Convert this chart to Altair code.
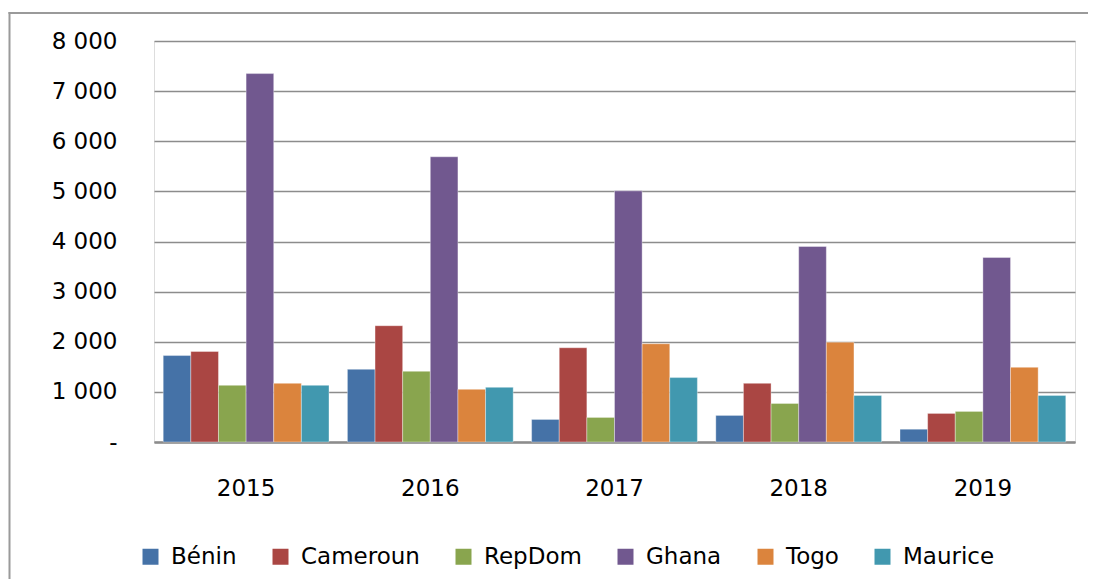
import altair as alt
import pandas as pd

years = ["2015", "2016", "2017", "2018", "2019"]
countries = ["Bénin", "Cameroun", "RepDom", "Ghana", "Togo", "Maurice"]
colors = ["#4572A7", "#AA4643", "#89A54E", "#71588F", "#DB843D", "#4198AF"]

benin = [1725, 1450, 450, 530, 255]
cameroun = [1805, 2320, 1880, 1170, 570]
repdom = [1130, 1410, 490, 770, 610]
ghana = [7350, 5690, 5010, 3900, 3680]
togo = [1170, 1050, 1960, 1990, 1490]
maurice = [1130, 1090, 1285, 930, 930]

series = [benin, cameroun, repdom, ghana, togo, maurice]
rows = []
for c, vals in zip(countries, series):
    for y, v in zip(years, vals):
        rows.append({"Année": y, "Pays": c, "Valeur": v})
df = pd.DataFrame(rows)

FONT = "DejaVu Sans"

bars = alt.Chart(df).mark_bar(stroke="#ffffff", strokeWidth=0.6, strokeOpacity=0.6).encode(
    x=alt.X("Année:N", sort=years,
            scale=alt.Scale(paddingInner=0.1, paddingOuter=0.05),
            axis=alt.Axis(title=None, labelAngle=0, tickSize=0, labelPadding=35,
                          domainColor="#8c8c8c", domainWidth=2.5, grid=False,
                          labelFont=FONT, labelFontSize=23, labelColor="#000000")),
    xOffset=alt.XOffset("Pays:N", sort=countries, scale=alt.Scale(paddingInner=0, paddingOuter=0)),
    y=alt.Y("Valeur:Q", scale=alt.Scale(domain=[0, 8000], nice=False),
            axis=alt.Axis(title=None, values=list(range(0, 8001, 1000)), tickSize=0,
                          labelPadding=37, domain=False, grid=True,
                          gridColor="#8c8c8c", gridWidth=1.6,
                          labelFont=FONT, labelFontSize=23, labelColor="#000000",
                          labelExpr="datum.value == 0 ? '-\u2007\u2009' : replace(format(datum.value, ','), ',', ' ')")),
    color=alt.Color("Pays:N", sort=countries,
                    scale=alt.Scale(domain=countries, range=colors),
                    legend=alt.Legend(title=None, orient="none", direction="horizontal",
                                      legendX=-15, legendY=504,
                                      symbolType="square", symbolSize=256, symbolStrokeWidth=0,
                                      labelFont=FONT, labelFontSize=23, labelColor="#000000",
                                      labelOffset=9, columnPadding=32, labelLimit=300)),
)

one = pd.DataFrame({"a": [0]})
top_line = alt.Chart(one).mark_rule(stroke="#9a9a9a", strokeWidth=2).encode(
    x=alt.value(-145.5), x2=alt.value(2000), y=alt.value(-28)
)
left_line = alt.Chart(one).mark_rule(stroke="#9a9a9a", strokeWidth=2).encode(
    x=alt.value(-144.5), y=alt.value(-29), y2=alt.value(1000)
)

chart = alt.layer(top_line, left_line, bars).properties(
    width=921, height=401,
    autosize=alt.AutoSizeParams(type="none"),
    padding={"left": 146, "top": 33, "right": 13, "bottom": 137},
).configure_view(stroke=None).configure(background="#ffffff")

chart.save("out.html", embed_options={"renderer": "svg", "actions": False})
